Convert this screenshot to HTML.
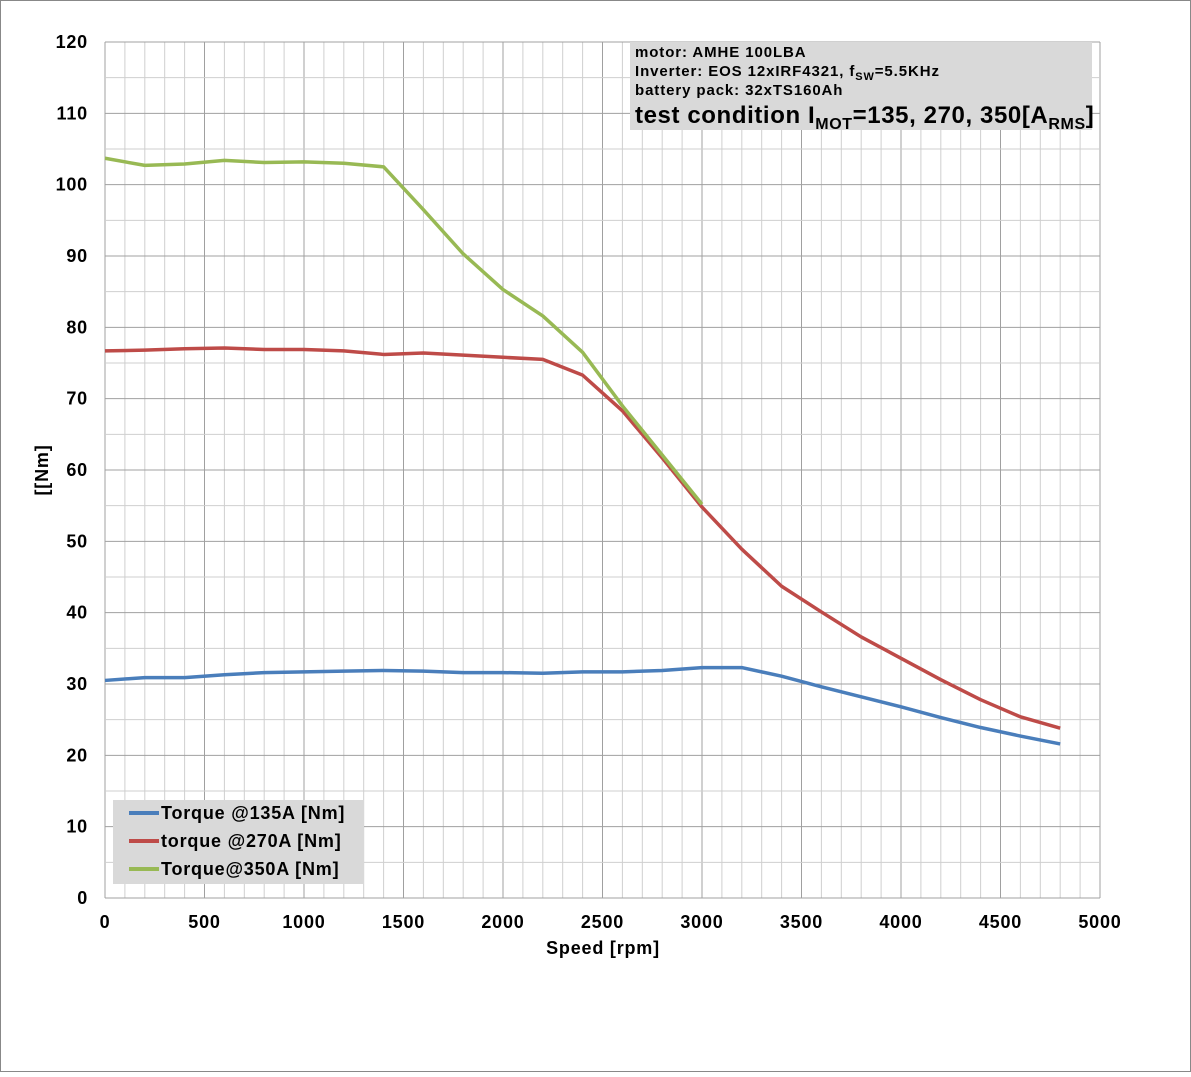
<!DOCTYPE html>
<html><head><meta charset="utf-8"><style>
body{margin:0;background:#fff;font-family:"Liberation Sans",Arial,sans-serif}
svg text{font-family:"Liberation Sans",Arial,sans-serif;font-weight:bold;fill:#000}
</style></head><body>
<svg id="chart" width="1191" height="1072" xmlns="http://www.w3.org/2000/svg">
<rect x="0.5" y="0.5" width="1190" height="1071" fill="#fff" stroke="#888"/>
<g id="grid"></g>
<g id="axes"></g>
<g id="series"></g>
<text x="603" y="954" font-size="18" letter-spacing="0.8" text-anchor="middle">Speed [rpm]</text>
<text transform="translate(48,470) rotate(-90)" font-size="18" letter-spacing="0.8" text-anchor="middle">[[Nm]</text>
<g>
<rect x="630" y="42" width="462" height="88" fill="#d9d9d9"/>
<text x="635" y="57" font-size="15" letter-spacing="0.9">motor: AMHE 100LBA</text>
<text x="635" y="76" font-size="15" letter-spacing="0.9">Inverter: EOS 12xIRF4321, f<tspan font-size="11" dy="4">SW</tspan><tspan dy="-4">=5.5KHz</tspan></text>
<text x="635" y="95" font-size="15" letter-spacing="0.9">battery pack: 32xTS160Ah</text>
<text x="635" y="123" font-size="24" letter-spacing="0.6">test condition I<tspan font-size="16" dy="6">MOT</tspan><tspan dy="-6">=135, 270, 350[A</tspan><tspan font-size="16" dy="6">RMS</tspan><tspan dy="-6">]</tspan></text>
</g>
<g>
<rect x="113" y="800" width="251" height="84" fill="#d9d9d9"/>
<g><line x1="129" y1="813" x2="159" y2="813" stroke="#4a7ebb" stroke-width="4"/><text x="161" y="819" font-size="18" letter-spacing="0.8">Torque @135A [Nm]</text></g>
<g><line x1="129" y1="841" x2="159" y2="841" stroke="#be4b48" stroke-width="4"/><text x="161" y="847" font-size="18" letter-spacing="0.8">torque @270A [Nm]</text></g>
<g><line x1="129" y1="869" x2="159" y2="869" stroke="#98b954" stroke-width="4"/><text x="161" y="875" font-size="18" letter-spacing="0.8">Torque@350A [Nm]</text></g>
</g>
</svg>
<script>
const speeds=[0,200,400,600,800,1000,1200,1400,1600,1800,2000,2200,2400,2600,2800,3000,3200,3400,3600,3800,4000,4200,4400,4600,4800];
const torque135=[30.5,30.9,30.9,31.3,31.6,31.7,31.8,31.9,31.8,31.6,31.6,31.5,31.7,31.7,31.9,32.3,32.3,31.1,29.6,28.2,26.8,25.3,23.9,22.7,21.6];
const torque270=[76.7,76.8,77.0,77.1,76.9,76.9,76.7,76.2,76.4,76.1,75.8,75.5,73.3,68.3,61.7,54.8,48.9,43.7,40.1,36.6,33.6,30.6,27.8,25.4,23.8];
const torque350=[103.7,102.7,102.9,103.4,103.1,103.2,103.0,102.5,96.5,90.3,85.3,81.6,76.5,69.0,62.1,55.2];
const xTicks=[0,500,1000,1500,2000,2500,3000,3500,4000,4500,5000];
const yTicks=[0,10,20,30,40,50,60,70,80,90,100,110,120];
const X0=105,X1=1100,Y0=898,Y1=42;
const sx=v=>X0+(v-0)/5000*(X1-X0);
const sy=v=>Y0-(v-0)/120*(Y0-Y1);
const NS='http://www.w3.org/2000/svg';
const grid=document.getElementById('grid'),axes=document.getElementById('axes'),ser=document.getElementById('series');
function mk(tag,attrs,parent){const e=document.createElementNS(NS,tag);for(const k in attrs)e.setAttribute(k,attrs[k]);parent.appendChild(e);return e;}
for(let v=0;v<=5000;v+=100){const x=sx(v);const l=mk('line',{x1:x,x2:x,y1:Y1,y2:Y0,stroke:v%500===0?'#a0a0a0':'#cfcfcf','stroke-width':1},grid);

}
for(let v=0;v<=120;v+=5){const y=sy(v);const l=mk('line',{x1:X0,x2:X1,y1:y,y2:y,stroke:v%10===0?'#a0a0a0':'#cfcfcf','stroke-width':1},grid);

}
xTicks.forEach(v=>{const t=mk('text',{x:sx(v),y:928,'font-size':18,'letter-spacing':0.8,'text-anchor':'middle'},axes);t.textContent=v;

});
yTicks.forEach(v=>{const t=mk('text',{x:88,y:sy(v)+6,'font-size':18,'letter-spacing':0.8,'text-anchor':'end'},axes);t.textContent=v;

});
[[torque135,'#4a7ebb','line-135a'],[torque270,'#be4b48','line-270a'],[torque350,'#98b954','line-350a']].forEach(([d,c,n])=>{
const pts=d.map((v,i)=>sx(speeds[i])+','+sy(v)).join(' ');
const p=mk('polyline',{points:pts,fill:'none',stroke:c,'stroke-width':3.5,'stroke-linejoin':'round'},ser);

});
</script>
</body></html>
